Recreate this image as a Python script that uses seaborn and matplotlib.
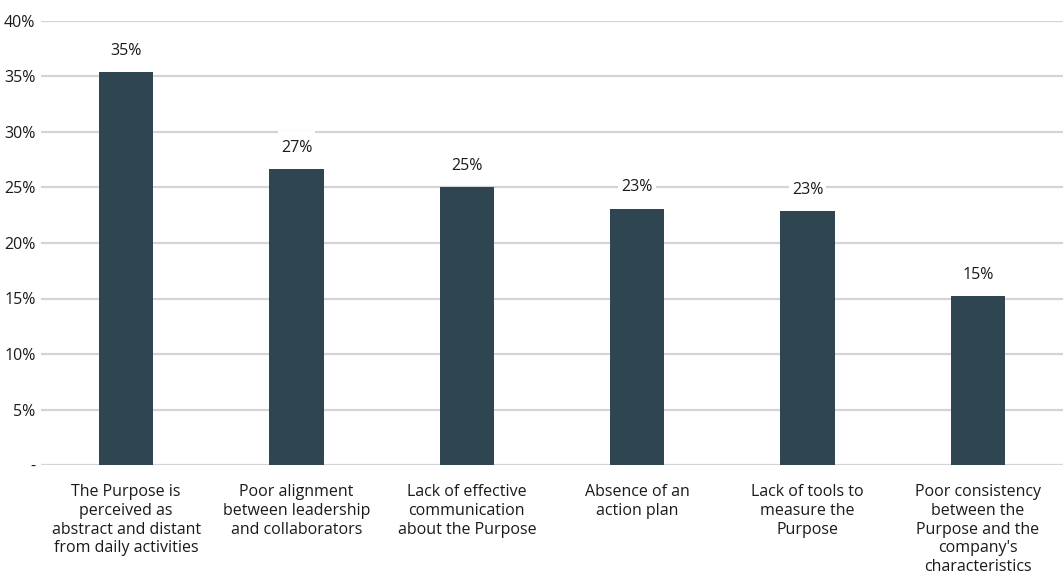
import matplotlib
matplotlib.use("Agg")
import matplotlib.pyplot as plt
from matplotlib.path import Path
import seaborn as sns
import pandas as pd

categories = [
    "The Purpose is\nperceived as\nabstract and distant\nfrom daily activities",
    "Poor alignment\nbetween leadership\nand collaborators",
    "Lack of effective\ncommunication\nabout the Purpose",
    "Absence of an\naction plan",
    "Lack of tools to\nmeasure the\nPurpose",
    "Poor consistency\nbetween the\nPurpose and the\ncompany's\ncharacteristics",
]
values = [35.4, 26.7, 25.0, 23.1, 22.9, 15.2]
y_ticks = [0, 5, 10, 15, 20, 25, 30, 35, 40]
y_tick_labels = ["-", "5%", "10%", "15%", "20%", "25%", "30%", "35%", "40%"]

df = pd.DataFrame({"category": categories, "value": values})

sns.set_theme(style="white")
plt.rcParams["font.family"] = ["Open Sans", "DejaVu Sans"]


def label_box(x0, y0, width, height, mutation_size):
    """White backing box: narrow side padding, taller top/bottom padding."""
    px = 0.2 * mutation_size
    py = 0.55 * mutation_size
    x1, y1 = x0 - px, y0 - py
    x2, y2 = x0 + width + px, y0 + height + py
    return Path([(x1, y1), (x2, y1), (x2, y2), (x1, y2), (x1, y1)], closed=True)


fig = plt.figure(figsize=(10.63, 5.76), dpi=100)
ax = fig.add_axes([41 / 1063, 1 - 465 / 576, 1 - 41 / 1063, (465 - 21) / 576])

bar_color = "#2F4552"
sns.barplot(data=df, x="category", y="value", color=bar_color, width=0.32,
            saturation=1, linewidth=0, ax=ax, zorder=3)

ax.set_ylim(0, 40)
ax.set_xlim(-0.5, len(categories) - 0.5)
ax.set_yticks(y_ticks)
ax.set_yticklabels(y_tick_labels, fontsize=11.5, color="#1a1a1a")
ax.tick_params(axis="both", length=0, pad=4)
ax.tick_params(axis="x", pad=14)
for lbl in ax.get_xticklabels():
    lbl.set_fontsize(11.5)
    lbl.set_color("#1a1a1a")
    lbl.set_linespacing(1.22)
    lbl.set_verticalalignment("top")
ax.set_xlabel("")
ax.set_ylabel("")

ax.yaxis.grid(True, color="#d4d4d4", linewidth=1.6, zorder=0)
ax.set_axisbelow(True)
for s in ax.spines.values():
    s.set_visible(False)

for i, v in enumerate(values):
    ax.text(i, v + 1.9, f"{v:.0f}%", ha="center", va="center", fontsize=11.5,
            color="#1a1a1a", zorder=4, clip_on=False,
            bbox=dict(boxstyle=label_box, facecolor="white", edgecolor="none"))

fig.savefig("out.png", dpi=100, facecolor="white")
